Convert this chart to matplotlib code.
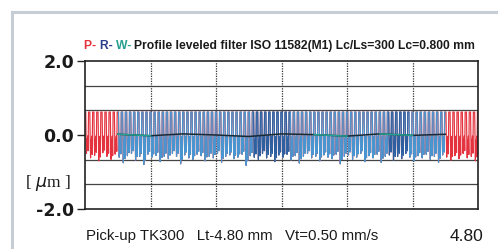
import matplotlib.pyplot as plt
import numpy as np
from matplotlib.lines import Line2D

# measured profile, 0 .. 4.80 mm, 96 grooves (deepest point of each groove, um)
length_mm = 4.80
groove_top = 0.62
groove_depth = [
    -0.50, -0.62, -0.55, -0.70, -0.48, -0.58, -0.66, -0.52, -0.60, -0.75,
    -0.56, -0.50, -0.68, -0.58, -0.80, -0.52, -0.60, -0.55, -0.72, -0.58,
    -0.64, -0.50, -0.58, -0.78, -0.54, -0.62, -0.66, -0.52, -0.56, -0.70,
    -0.58, -0.62, -0.50, -0.74, -0.58, -0.54, -0.64, -0.60, -0.52, -0.82,
    -0.56, -0.60, -0.66, -0.50, -0.62, -0.58, -0.72, -0.54, -0.60, -0.52,
    -0.68, -0.56, -0.76, -0.58, -0.50, -0.62, -0.58, -0.70, -0.54, -0.60,
    -0.64, -0.52, -0.78, -0.58, -0.54, -0.66, -0.60, -0.50, -0.72, -0.56,
    -0.62, -0.52, -0.74, -0.58, -0.54, -0.68, -0.58, -0.64, -0.50, -0.60,
    -0.70, -0.56, -0.62, -0.52, -0.66, -0.58, -0.74, -0.54, -0.60, -0.68,
    -0.56, -0.64, -0.50, -0.62, -0.58, -0.70,
]
# waviness line
w_x = [0.40, 0.80, 1.20, 1.60, 2.00, 2.40, 2.80, 3.20, 3.60, 4.00, 4.40]
w_y = [0.02, -0.02, 0.03, 0.00, -0.04, 0.03, 0.01, -0.03, 0.03, -0.01, 0.02]
y_ticks = [-2.0, 0.0, 2.0]
y_ticklabels = ['-2.0', '0.0', '2.0']

# tooth template inside one groove period (shape only: None = top, else share of depth)
tooth_fx = [0.0, 0.18, 0.26, 0.36, 0.46, 0.56, 0.66, 0.76, 0.86, 1.0]
tooth_fy = [None, None, 0.10, 1.00, 0.20, 0.70, 0.05, 0.85, None, None]

n = len(groove_depth)
period = length_mm / n
px, py = [], []
for i, d in enumerate(groove_depth):
    x0 = i * period
    for fx, fy in zip(tooth_fx, tooth_fy):
        px.append(x0 + fx * period)
        py.append(groove_top if fy is None else d * fy)
px = np.array(px)
py = np.array(py)

fig = plt.figure(figsize=(4.98, 2.49), dpi=100)
fig.patch.set_facecolor('white')
ax = fig.add_axes([85 / 498, 1 - 209 / 249, 393 / 498, 148 / 249])

# light frame of the scanned page
fig.add_artist(Line2D([12 / 498, 12 / 498], [0, 1 - 12 / 249],
                      transform=fig.transFigure, color='#c6cdd5', lw=2.2))
fig.add_artist(Line2D([12 / 498, 1], [1 - 12 / 249, 1 - 12 / 249],
                      transform=fig.transFigure, color='#c6cdd5', lw=2.2))

# grid: 6 x 6 divisions
for gy in [-4 / 3, -2 / 3, 2 / 3, 4 / 3]:
    ax.axhline(gy, color='#444444', lw=0.9, zorder=1)
for gx in np.arange(1, 6) * length_mm / 6:
    ax.axvline(gx, color='#333333', lw=0.9, ls=(0, (1, 1)), zorder=1)

# P profile (red) then R profile (blue) over the evaluation length
ax.plot(px, py, color='#e4323e', lw=0.85, zorder=2)
mid = (px >= 0.40) & (px <= 4.40)
ax.plot(px[mid], py[mid], color='#4a94cf', lw=0.85, zorder=3)
for a, b in [(2.05, 2.50), (3.70, 3.95)]:
    seg = (px >= a) & (px <= b)
    ax.plot(px[seg], py[seg], color='#2f5f9e', lw=0.7, zorder=3)

# W line
ax.plot(w_x, w_y, color='#1a2a35', lw=1.1, zorder=4)
w_xa = np.array(w_x)
for a, b in [(0.40, 0.80), (2.80, 3.20), (3.60, 4.00)]:
    seg = (w_xa >= a) & (w_xa <= b)
    ax.plot(w_xa[seg], np.array(w_y)[seg], color='#23a08f', lw=1.1, zorder=4)

ax.set_xlim(0, length_mm)
ax.set_ylim(-2.0, 2.0)
ax.set_xticks([])
ax.set_yticks(y_ticks)
ax.set_yticklabels(y_ticklabels, fontfamily='DejaVu Sans', fontweight='bold',
                   fontsize=12.5, color='#1a1a1a')
ax.tick_params(axis='y', direction='out', length=6, width=1, pad=2,
               color='#222222')
for s in ax.spines.values():
    s.set_color('#222222')
    s.set_linewidth(1.2)

# unit label
fig.text(48 / 498, 1 - 183 / 249, '[ $\\mu$m ]', ha='center', va='center',
         fontfamily='Liberation Serif', fontsize=12.5, color='#1a1a1a')

# coloured title
tfont = dict(fontfamily='Liberation Sans', fontweight='bold', fontsize=8.7)
t = fig.text(84 / 498, 1 - 46 / 249, 'P- ', color='#e4323e', va='center',
             **tfont)
prev = t
for part, col in [('R- ', '#2c3f8c'), ('W- ', '#23a08f'),
                  ('Profile leveled filter ISO 11582(M1) Lc/Ls=300 Lc=0.800 mm',
                   '#1a1a1a')]:
    prev = ax.annotate(part, xy=(1, 0), xycoords=prev, va='bottom',
                       color=col, **tfont)

# bottom info line
fig.text(86 / 498, 1 - 236 / 249, 'Pick-up TK300   Lt-4.80 mm   Vt=0.50 mm/s',
         fontfamily='Liberation Sans', fontsize=10.8, color='#1a1a1a',
         va='center')
fig.text(483 / 498, 1 - 236 / 249, '4.80', ha='right', va='center',
         fontfamily='Liberation Sans', fontsize=12.5, color='#1a1a1a')

fig.savefig('out.png', dpi=100, facecolor='white')
